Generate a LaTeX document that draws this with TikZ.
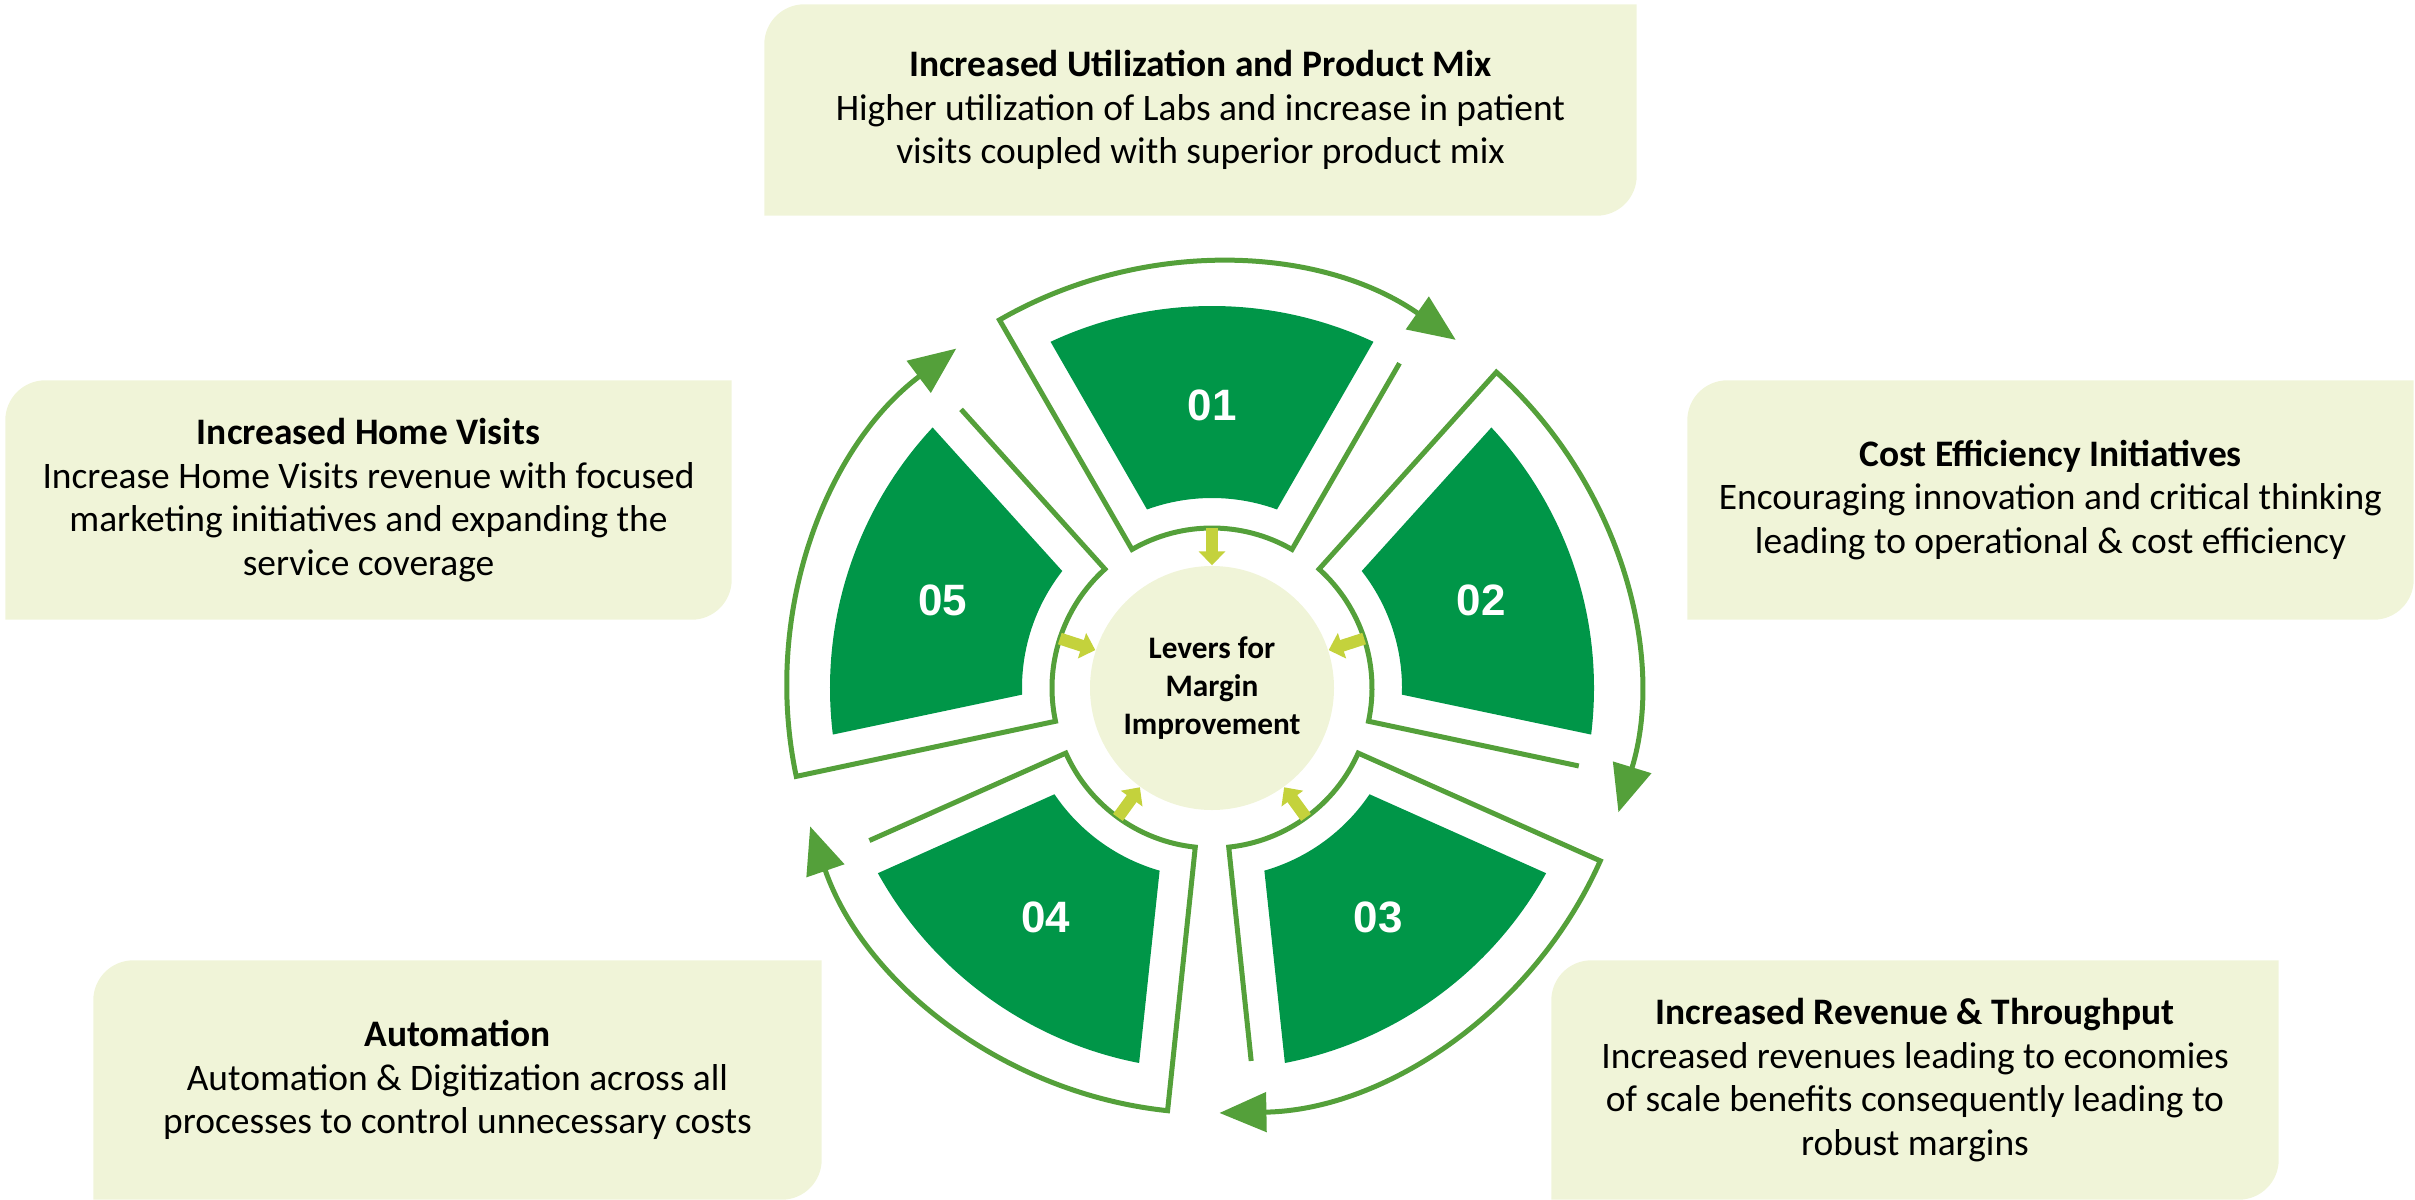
\documentclass[tikz,border=0pt]{standalone}
\usepackage{fontspec}
\setmainfont{Carlito}
\newfontfamily\numfont{Liberation Sans}
\usetikzlibrary{arrows.meta,backgrounds}
\definecolor{segreen}{RGB}{0,150,72}
\definecolor{rimgreen}{RGB}{84,160,58}
\definecolor{pointer}{RGB}{196,210,60}
\definecolor{leaf}{RGB}{240,244,216}
\tikzstyle{sec}=[fill=segreen]
\tikzstyle{rim}=[draw=rimgreen, line width=0.5mm, -{Triangle[length=4.7mm,width=3.9mm]}]
\tikzstyle{ptr}=[draw=pointer, line width=1.2mm, -{Triangle[length=1.4mm,width=2.6mm]}]
\tikzstyle{num}=[text=white, font=\numfont\bfseries\fontsize{12.5}{14}\selectfont]
\tikzstyle{lever}=[inner sep=0, align=center, font=\fontsize{10.65}{12.4}\selectfont]

\begin{document}
\begin{tikzpicture}[x=0.1mm, y=0.1mm]
\useasboundingbox (-1212,-511) rectangle (1203,688);
\node[circle, fill=leaf, minimum size=24.4mm, inner sep=0, align=center,
  font=\bfseries\fontsize{8.9}{10.8}\selectfont] (hub) at (0,0) {Levers for\\Margin\\Improvement};
\foreach \k in {1,...,5}
{
\pgfmathsetmacro{\a}{162-72*\k}
\fill[sec] (\a-25:382) arc[start angle=\a-25, end angle=\a+25, radius=382]
  -- (\a+20:190) arc[start angle=\a+20, end angle=\a-20, radius=190] -- cycle;
\draw[rim] (\a-30:375) -- (\a-30:160) arc[start angle=\a-30, end angle=\a+30, radius=160]
  -- (\a+30:425) arc[start angle=\a+30, end angle=\a-35, radius=425];
\node[num] (N\k) at (\a:283) {0\k};
\coordinate (P\k) at (\a:160);
\draw[ptr] (P\k) -- (hub);
}
% text boxes
\node[lever, minimum width=87.1mm, minimum height=21mm] (util) at (-11.5,578)
  {\textbf{Increased Utilization and Product Mix}\\Higher utilization of Labs and increase in patient\\visits coupled with superior product mix};
\node[lever, minimum width=72.5mm, minimum height=23.8mm] (cost) at (838.5,188)
  {\textbf{Cost Efficiency Initiatives}\\Encouraging innovation and critical thinking\\leading to operational \& cost efficiency};
\node[lever, minimum width=72.6mm, minimum height=23.8mm] (rev) at (703,-392)
  {\textbf{Increased Revenue \& Throughput}\\Increased revenues leading to economies\\of scale benefits consequently leading to\\robust margins};
\node[lever, minimum width=72.7mm, minimum height=23.8mm] (autom) at (-754.5,-392)
  {\textbf{Automation}\\Automation \& Digitization across all\\processes to control unnecessary costs};
\node[lever, minimum width=72.5mm, minimum height=23.8mm] (home) at (-843.5,188)
  {\textbf{Increased Home Visits}\\Increase Home Visits revenue with focused\\marketing initiatives and expanding the\\service coverage};
\begin{scope}[on background layer]
\foreach \n in {util,cost,rev,autom,home}
{
\fill[leaf] (\n.south west) -- ([yshift=-4mm]\n.north west) arc[start angle=180, end angle=90, radius=4mm]
  -- (\n.north east) -- ([yshift=4mm]\n.south east) arc[start angle=0, end angle=-90, radius=4mm] -- cycle;
}
\end{scope}
\end{tikzpicture}
\end{document}
